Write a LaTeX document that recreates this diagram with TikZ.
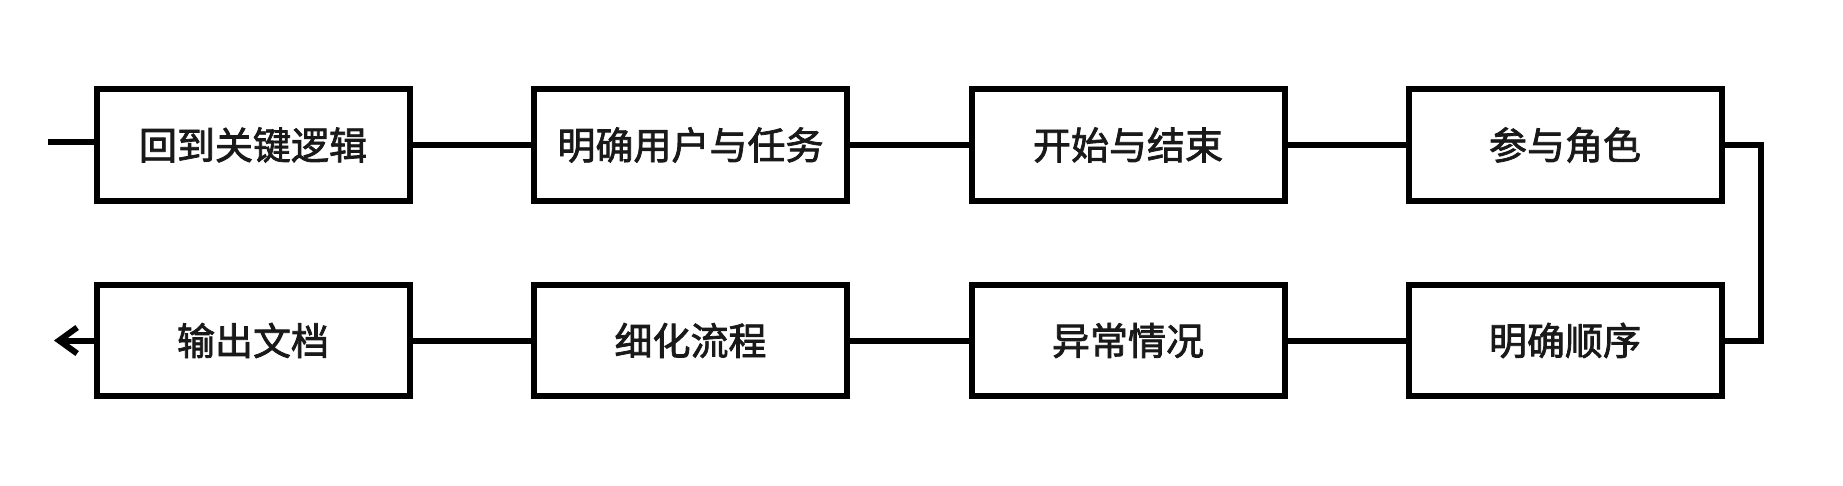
\documentclass[tikz,border=0pt]{standalone}
\usepackage{fontspec}
\newfontfamily\cjk{Noto Sans CJK SC}[FakeBold=2]
\usetikzlibrary{arrows.meta}
\begin{document}
\begin{tikzpicture}[x=1pt,y=1pt,
  stepbox/.style={draw=black,line width=6pt,minimum width=313pt,minimum height=111.5pt,inner sep=0pt,font=\cjk\fontsize{38pt}{44pt}\selectfont,text=black!90},
  conn/.style={draw=black,line width=6pt}]
\useasboundingbox (0,0) rectangle (1843,-486);
\fill[white] (0,0) rectangle (1843,-486);
\node[stepbox] (b1) at (253,-145) {回到关键逻辑};
\node[stepbox] (b2) at (690.5,-145) {明确用户与任务};
\node[stepbox] (b3) at (1128,-145) {开始与结束};
\node[stepbox] (b4) at (1565,-145) {参与角色};
\node[stepbox] (c4) at (1565,-340.5) {明确顺序};
\node[stepbox] (c3) at (1128,-340.5) {异常情况};
\node[stepbox] (c2) at (690.5,-340.5) {细化流程};
\node[stepbox] (c1) at (253,-340.5) {输出文档};
\coordinate (start) at (48,-142);
\coordinate (turn) at (1761,-145);
\coordinate (finish) at (54,-340.5);
\draw[conn] (start) -- (start -| b1.west);
\draw[conn] (b1) -- (b2);
\draw[conn] (b2) -- (b3);
\draw[conn] (b3) -- (b4);
\draw[conn] (b4.east) -- (turn) -- (turn |- c4.east) -- (c4.east);
\draw[conn] (c4) -- (c3);
\draw[conn] (c3) -- (c2);
\draw[conn] (c2) -- (c1);
\draw[conn,-{Straight Barb[length=18pt,width=26pt]}] (c1.west) -- (finish);
\end{tikzpicture}
\end{document}
